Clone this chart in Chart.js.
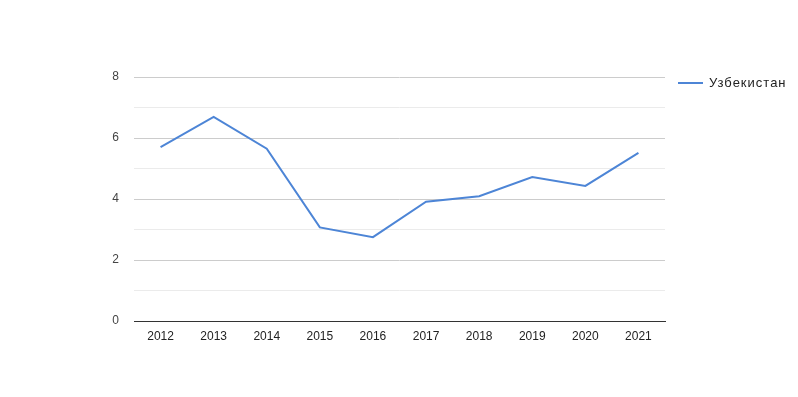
<!DOCTYPE html>
<html>
<head>
<meta charset="utf-8">
<script src="https://cdn.jsdelivr.net/npm/chart.js@4"></script>
<style>
  html, body { margin: 0; padding: 0; background: #fff; }
  #wrap { width: 798px; height: 397px; }
</style>
</head>
<body>
<div id="wrap"><canvas id="myChart"></canvas></div>
<script>
const years = ["2012", "2013", "2014", "2015", "2016", "2017", "2018", "2019", "2020", "2021"];
const uzbekistan = [5.70, 6.69, 5.65, 3.07, 2.75, 3.91, 4.09, 4.72, 4.43, 5.51];
const seriesName = "Узбекистан";
const lineColor = "#4d85d6";

Chart.defaults.font.family = "'Liberation Sans', Arial, sans-serif";
Chart.defaults.font.size = 12;
Chart.defaults.color = "#444";

// google-style legend on the right
const sideLegend = {
  id: "sideLegend",
  afterDraw(chart) {
    const c = chart.ctx;
    const ds = chart.data.datasets[0];
    c.save();
    c.strokeStyle = ds.borderColor;
    c.lineWidth = 2;
    c.beginPath();
    c.moveTo(678, 83);
    c.lineTo(703, 83);
    c.stroke();
    c.fillStyle = "#222";
    c.font = "13px 'Liberation Sans', Arial, sans-serif";
    c.letterSpacing = "1px";
    c.textBaseline = "middle";
    c.fillText(ds.label, 709, 83);
    c.restore();
  },
};

const ctx = document.getElementById("myChart");
new Chart(ctx, {
  type: "line",
  data: {
    labels: years,
    datasets: [
      {
        label: seriesName,
        data: uzbekistan,
        borderColor: lineColor,
        borderWidth: 2,
        pointRadius: 0,
        tension: 0,
        fill: false,
      },
    ],
  },
  options: {
    responsive: true,
    maintainAspectRatio: false,
    animation: false,
    layout: { padding: { left: 0, top: 77, right: 133, bottom: 0 } },
    plugins: { legend: { display: false }, tooltip: { enabled: false } },
    scales: {
      x: {
        offset: true,
        grid: { display: false, drawTicks: false },
        border: { display: true, color: "#333", width: 1 },
        ticks: { padding: 8, maxRotation: 0, color: "#222" },
        afterFit(scale) { scale.height = 76; },
      },
      y: {
        min: 0,
        max: 8,
        ticks: {
          stepSize: 1,
          padding: 15,
          color: "#444",
          callback: (v) => (v % 2 === 0 ? v : ""),
        },
        grid: {
          drawTicks: false,
          color: (c) => (c.tick.value === 0 ? "#333" : c.tick.value % 2 === 0 ? "#cccccc" : "#ebebeb"),
        },
        border: { display: false },
        afterFit(scale) { scale.width = 134; },
      },
    },
  },
  plugins: [sideLegend],
});
</script>
</body>
</html>
